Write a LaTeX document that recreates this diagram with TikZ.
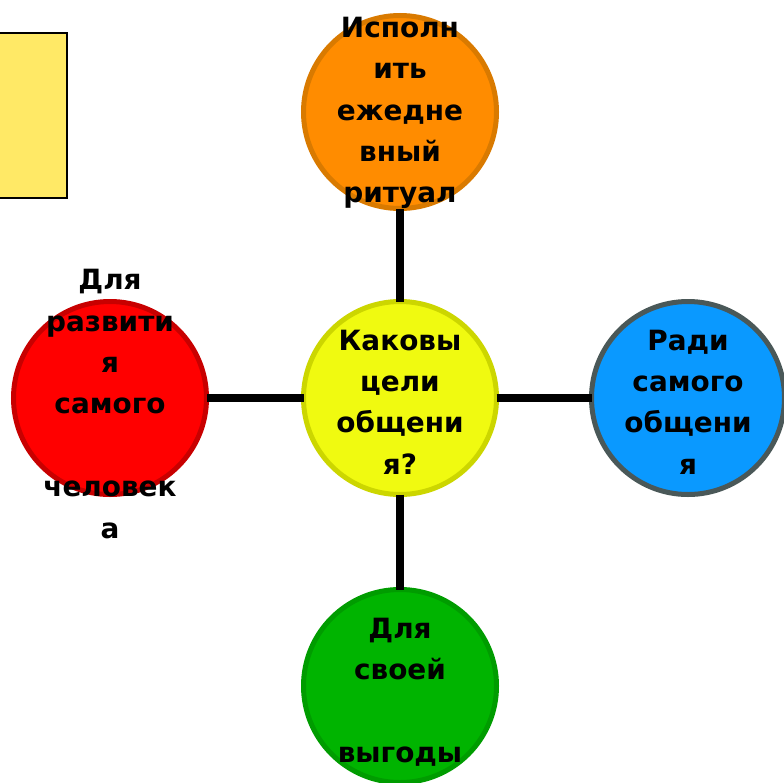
\documentclass[tikz,border=0pt]{standalone}
\usepackage{fontspec}
\setmainfont{DejaVu Sans}
\usepackage{tikz}

\definecolor{goalyellow}{HTML}{F0FA10}
\definecolor{goalyellowb}{HTML}{CCD600}
\definecolor{ritualorange}{HTML}{FF8C00}
\definecolor{ritualorangeb}{HTML}{D97A00}
\definecolor{selfred}{HTML}{FF0000}
\definecolor{selfredb}{HTML}{C80000}
\definecolor{talkblue}{HTML}{0A99FF}
\definecolor{talkblueb}{HTML}{4A5858}
\definecolor{gaingreen}{HTML}{00B400}
\definecolor{gaingreenb}{HTML}{009C00}
\definecolor{notebox}{HTML}{FFE966}

\tikzset{
    goal/.style={circle,minimum size=193bp,line width=5bp,inner sep=0pt,outer sep=0pt},
    goaltext/.style={align=center,font=\fontsize{28}{41.5}\selectfont\bfseries,inner sep=0pt},
    link/.style={line width=8bp}
}

\begin{document}
\begin{tikzpicture}[x=1bp,y=-1bp]
                \useasboundingbox (0,0) rectangle (784,783);
                \draw[fill=notebox,line width=1.2bp] (-5,33) rectangle (67,198);

                \node[goal,fill=goalyellow,draw=goalyellowb] (goals) at (400,398) {};
                \node[goal,fill=ritualorange,draw=ritualorangeb] (ritual) at (400,112) {};
                \node[goal,fill=selfred,draw=selfredb] (self) at (110,398) {};
                \node[goal,fill=talkblue,draw=talkblueb] (talk) at (688,398) {};
                \node[goal,fill=gaingreen,draw=gaingreenb] (gain) at (400,686) {};

                \foreach \n in {ritual,self,talk,gain} \draw[link] (goals) -- (\n);

                \node[goaltext] (goalstext) at (400,402) {Каковы\\ цели\\общени\\я?};
                \node[goaltext] (ritualtext) at (400,113) {Исполн\\ить\\ежедне\\вный\\ритуал};
                \node[goaltext] (selftext) at (110,404) {Для\\развити\\я\\ самого\\[41.5bp]человек\\а};
                \node[goaltext] (talktext) at (688,402) {Ради\\самого\\общени\\я};
                \node[goaltext] (gaintext) at (400,692) {Для\\своей\\[41.5bp]выгоды};
            \end{tikzpicture}
\end{document}
